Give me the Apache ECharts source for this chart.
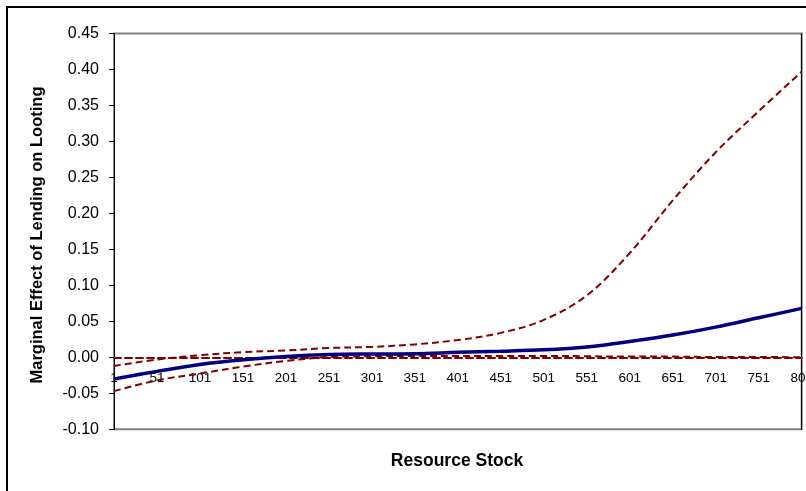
<!DOCTYPE html>
<html>
<head>
<meta charset="utf-8">
<script src="https://cdn.jsdelivr.net/npm/echarts@6/dist/echarts.min.js"></script>
<style>
  html, body { margin: 0; padding: 0; background: #fff; }
  #chart { width: 806px; height: 491px; }
</style>
</head>
<body>
<div id="chart"></div>
<script>
// Resource stock levels (x axis categories)
const resourceStock = ['1', '51', '101', '151', '201', '251', '301', '351', '401',
  '451', '501', '551', '601', '651', '701', '751', '801'];

// Marginal effect estimate
const marginalEffect = [-0.030, -0.0195, -0.0100, -0.0035, 0.0012, 0.0040, 0.0047, 0.0050, 0.0070,
  0.0085, 0.0105, 0.0145, 0.0220, 0.0310, 0.0420, 0.0550, 0.0680];

// Upper and lower confidence bounds
const upperBound = [-0.012, -0.003, 0.003, 0.0072, 0.0095, 0.0130, 0.0145, 0.018, 0.024,
  0.034, 0.052, 0.086, 0.145, 0.218, 0.285, 0.342, 0.397];
const lowerBound = [-0.047, -0.032, -0.0225, -0.0128, -0.0050, 0.0004, 0.0015, 0.002, 0.002,
  0.002, 0.002, 0.0015, 0.001, 0.001, 0.0005, 0.0005, 0.0];

// Value axis ticks
const yMin = -0.10, yMax = 0.45, yStep = 0.05;

const FONT = '"Liberation Sans", Arial, Helvetica, sans-serif';
const W = 806, H = 491;
const gridBox = { left: 114, top: 33.5, right: 4.3, bottom: 61.7 };

// The category axis crosses the value axis at zero: shift it up from the grid bottom
const plotHeight = H - gridBox.top - gridBox.bottom;
const zeroOffset = -plotHeight * (0 - yMin) / (yMax - yMin);

const chart = echarts.init(document.getElementById('chart'), null, { renderer: 'canvas' });

const dashed = { type: [7, 4], width: 2, color: '#800000' };

chart.setOption({
  animation: false,
  backgroundColor: '#ffffff',
  grid: Object.assign({
    containLabel: false, outerBoundsMode: 'none',
    show: true, borderColor: '#808080', borderWidth: 2, backgroundColor: 'transparent'
  }, gridBox),
  xAxis: {
    type: 'category',
    data: resourceStock,
    boundaryGap: false,
    position: 'bottom',
    offset: zeroOffset,
    axisLine: { onZero: false,
      lineStyle: { type: [7, 4], width: 2, color: '#800000' } },
    axisTick: { show: false },
    axisLabel: { interval: 0, margin: 14, fontFamily: FONT, fontSize: 13.5, color: '#000',
      showMinLabel: true, showMaxLabel: true, hideOverlap: false },
    splitLine: { show: false }
  },
  yAxis: [{
    type: 'value',
    min: yMin, max: yMax, interval: yStep,
    axisLine: { show: true, onZero: false, lineStyle: { color: '#000', width: 1 } },
    axisTick: { show: true, length: 5, lineStyle: { color: '#000' } },
    axisLabel: { margin: 15, fontFamily: FONT, fontSize: 16, color: '#000',
      formatter: v => v.toFixed(2) },
    splitLine: { show: false }
  }, {
    type: 'value', position: 'right',
    min: yMin, max: yMax, interval: yStep,
    axisLine: { show: true, onZero: false, lineStyle: { color: '#000', width: 1 } },
    axisTick: { show: false }, axisLabel: { show: false }, splitLine: { show: false }
  }],
  series: [
    {
      name: 'Upper bound', type: 'line', data: upperBound, smooth: 0.35,
      symbol: 'none', lineStyle: dashed, z: 2
    },
    {
      name: 'Lower bound', type: 'line', data: lowerBound, smooth: 0.35,
      symbol: 'none', lineStyle: dashed, z: 2
    },
    {
      name: 'Marginal effect', type: 'line', data: marginalEffect, smooth: 0.35,
      symbol: 'none', lineStyle: { color: '#000080', width: 3.5 }, z: 3
    }
  ],
  graphic: [
    {
      type: 'rect', silent: true,
      shape: { x: 7, y: 7, width: 830, height: 520 },
      style: { fill: 'none', stroke: '#000', lineWidth: 2 }
    },
    {
      type: 'text', x: 37, y: 235, rotation: Math.PI / 2,
      style: {
        text: 'Marginal Effect of Lending on Looting', fontFamily: FONT, fontSize: 16.5,
        fontWeight: 'bold', fill: '#000', textAlign: 'center', textVerticalAlign: 'middle'
      }
    },
    {
      type: 'text', x: 457, y: 461,
      style: {
        text: 'Resource Stock', fontFamily: FONT, fontSize: 17.5,
        fontWeight: 'bold', fill: '#000', textAlign: 'center', textVerticalAlign: 'middle'
      }
    }
  ]
});
</script>
</body>
</html>
